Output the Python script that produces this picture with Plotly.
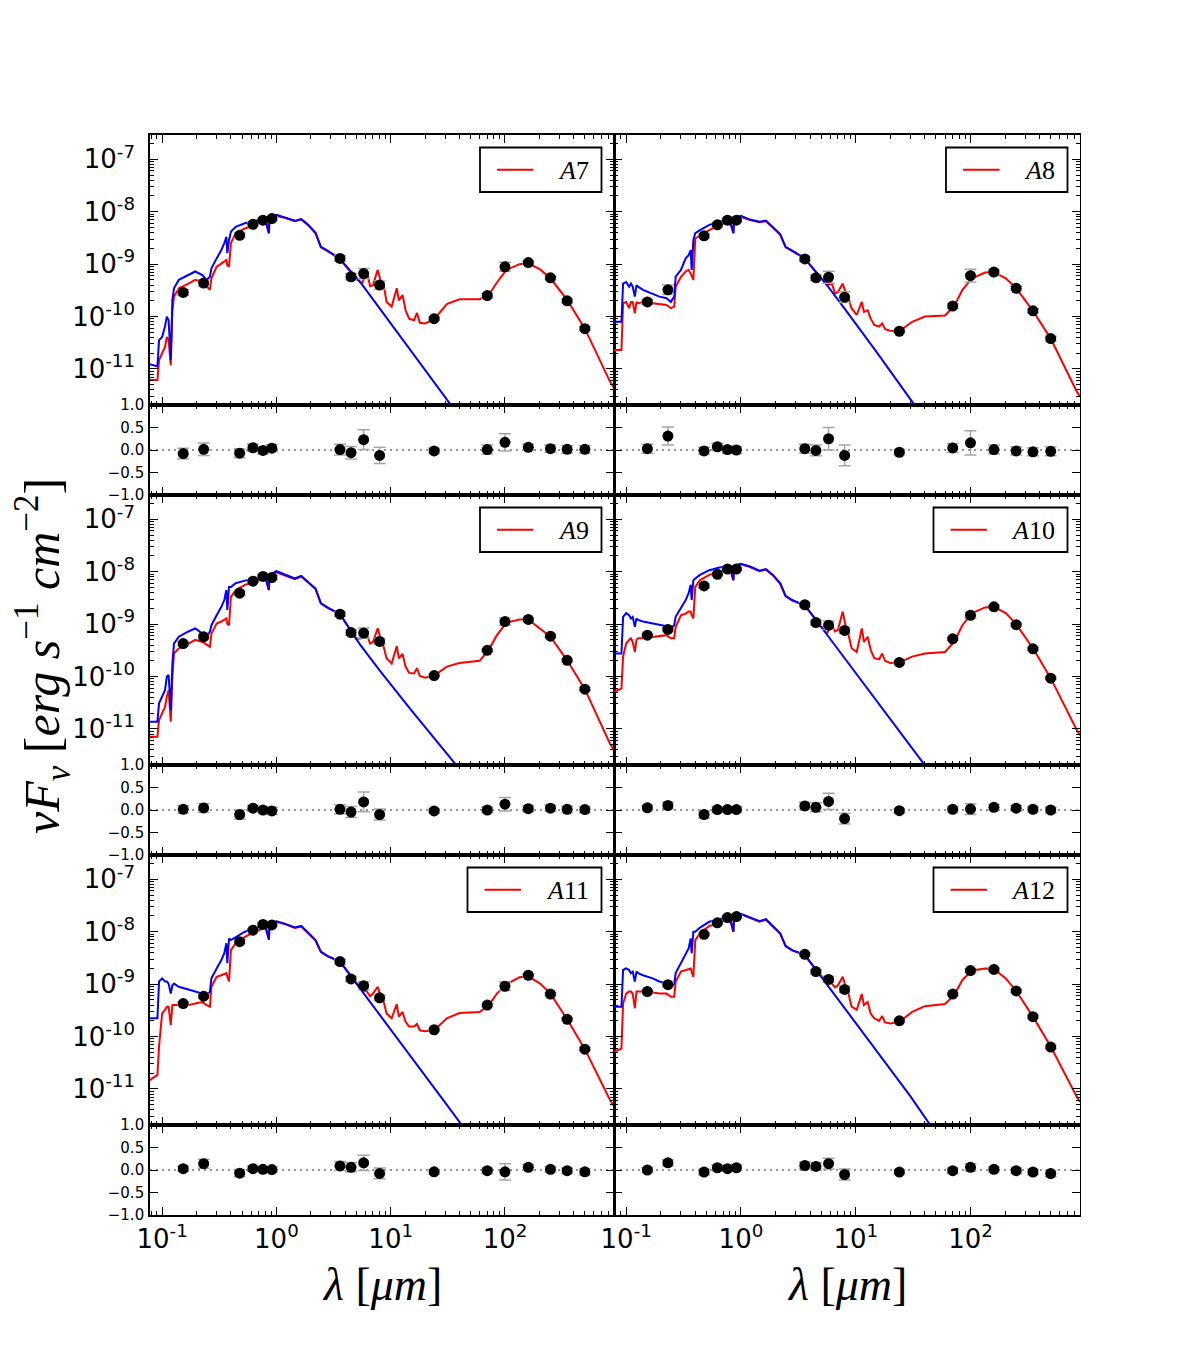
import plotly.graph_objects as go

# ---------------- data (log10 of nu F_nu in erg s^-1 cm^-2) ----------------
panel_names = ["A7", "A8", "A9", "A10", "A11", "A12"]

phot_wl = [0.153, 0.231, 0.477, 0.623, 0.763, 0.913, 3.6, 4.5, 5.8, 8.0,
           24, 70, 100, 160, 250, 350, 500]

phot_A7 = [-9.54, -9.36, -8.45, -8.24, -8.16, -8.13, -8.89, -9.24, -9.18, -9.40, -10.04, -9.60, -9.05, -8.97, -9.26, -9.70, -10.23]
phot_A8 = [-9.72, -9.49, -8.46, -8.25, -8.16, -8.16, -8.90, -9.26, -9.25, -9.63, -10.28, -9.80, -9.22, -9.15, -9.46, -9.89, -10.42]
phot_A9 = [-9.37, -9.24, -8.41, -8.18, -8.09, -8.11, -8.81, -9.16, -9.17, -9.33, -9.98, -9.50, -8.95, -8.91, -9.23, -9.69, -10.24]
phot_A10 = [-9.21, -9.10, -8.27, -8.05, -7.95, -7.95, -8.63, -8.97, -9.02, -9.12, -9.73, -9.28, -8.83, -8.67, -9.01, -9.47, -10.03]
phot_A11 = [-9.37, -9.23, -8.19, -7.97, -7.86, -7.87, -8.57, -8.90, -9.03, -9.26, -9.87, -9.40, -9.04, -8.83, -9.19, -9.67, -10.24]
phot_A12 = [-9.14, -9.01, -8.05, -7.83, -7.73, -7.71, -8.43, -8.76, -8.91, -9.10, -9.70, -9.19, -8.74, -8.72, -9.13, -9.62, -10.20]

resid_A7 = [-0.08, 0.015, -0.07, 0.05, -0.01, 0.04, 0.01, -0.06, 0.23, -0.12, -0.02, 0.01, 0.17, 0.06, 0.03, 0.015, 0.015]
resid_A8 = [0.03, 0.31, -0.02, 0.07, 0.01, 0.0, 0.03, -0.01, 0.25, -0.12, -0.05, 0.045, 0.16, 0.01, -0.02, -0.04, -0.03]
resid_A9 = [0.015, 0.045, -0.10, 0.04, 0.0, -0.02, 0.015, -0.045, 0.18, -0.10, -0.02, 0.0, 0.13, 0.03, 0.04, 0.015, 0.01]
resid_A10 = [0.05, 0.10, -0.10, 0.01, 0.01, 0.01, 0.09, 0.06, 0.19, -0.19, -0.015, 0.015, 0.02, 0.06, 0.04, 0.015, 0.0]
resid_A11 = [0.03, 0.14, -0.07, 0.03, 0.015, 0.01, 0.09, 0.06, 0.16, -0.075, -0.04, -0.015, -0.04, 0.06, 0.015, -0.015, -0.04]
resid_A12 = [0.0, 0.16, -0.045, 0.05, 0.03, 0.05, 0.10, 0.08, 0.14, -0.10, -0.045, -0.015, 0.06, 0.015, -0.015, -0.045, -0.08]

rerr_A7 = [0.12, 0.14, 0.10, 0.08, 0.08, 0.08, 0.12, 0.14, 0.22, 0.18, 0.06, 0.10, 0.19, 0.07, 0.08, 0.08, 0.08]
rerr_A8 = [0.10, 0.20, 0.08, 0.08, 0.08, 0.08, 0.10, 0.12, 0.25, 0.23, 0.06, 0.10, 0.27, 0.10, 0.09, 0.09, 0.10]
rerr_A9 = [0.08, 0.10, 0.10, 0.06, 0.06, 0.08, 0.10, 0.12, 0.22, 0.12, 0.05, 0.06, 0.15, 0.07, 0.07, 0.07, 0.07]
rerr_A10 = [0.05, 0.07, 0.08, 0.06, 0.06, 0.06, 0.08, 0.10, 0.18, 0.12, 0.05, 0.06, 0.12, 0.06, 0.06, 0.06, 0.06]
rerr_A11 = [0.06, 0.10, 0.08, 0.06, 0.06, 0.06, 0.10, 0.10, 0.17, 0.12, 0.05, 0.06, 0.18, 0.06, 0.06, 0.06, 0.07]
rerr_A12 = [0.05, 0.07, 0.06, 0.06, 0.06, 0.06, 0.08, 0.08, 0.12, 0.12, 0.05, 0.06, 0.08, 0.06, 0.06, 0.06, 0.07]

# stellar part of the models (UV-optical-NIR)
star_wl = [0.078, 0.091, 0.094, 0.100, 0.106, 0.110, 0.114, 0.119, 0.123, 0.127,
           0.140, 0.170, 0.195, 0.225, 0.245, 0.262, 0.270, 0.300, 0.330, 0.350,
           0.365, 0.372, 0.385, 0.400, 0.440, 0.530, 0.650, 0.800, 0.860, 0.870,
           1.000, 1.200, 1.450, 1.650, 1.900, 2.200, 2.450, 2.800, 3.600]

star_blue_A7 = [-10.91, -10.95, -10.45, -10.39, -10.19, -10.00, -10.07, -10.83, -9.68, -9.46,
                -9.30, -9.21, -9.14, -9.21, -9.30, -9.24, -9.08, -8.89, -8.73, -8.60,
                -8.48, -8.79, -8.54, -8.38, -8.29, -8.22, -8.17, -8.13, -8.41, -8.11,
                -8.06, -8.11, -8.17, -8.14, -8.25, -8.40, -8.67, -8.74, -8.90]
star_red_A7 = [-11.21, -11.21, -10.83, -10.70, -10.58, -10.39, -10.45, -10.93, -9.88, -9.62,
               -9.46, -9.37, -9.30, -9.34, -9.43, -9.49, -9.27, -9.05, -8.99, -8.95,
               -8.92, -9.02, -9.05, -8.60, -8.41, -8.32, -8.25, -8.17, -8.41, -8.14,
               -8.08, -8.12, -8.18, -8.15, -8.26, -8.41, -8.68, -8.75, -8.90]

star_blue_A8 = [-10.10, -10.10, -9.37, -9.34, -9.43, -9.37, -9.43, -9.62, -9.40, -9.43,
                -9.49, -9.56, -9.62, -9.65, -9.72, -9.62, -9.24, -9.11, -8.89, -8.83,
                -8.73, -9.11, -8.54, -8.41, -8.35, -8.25, -8.19, -8.15, -8.41, -8.13,
                -8.08, -8.15, -8.19, -8.17, -8.29, -8.43, -8.67, -8.74, -8.89]
star_red_A8 = [-10.64, -10.64, -9.75, -9.72, -9.84, -9.72, -9.72, -9.94, -9.72, -9.75,
               -9.72, -9.74, -9.76, -9.78, -9.84, -9.81, -9.43, -9.24, -9.14, -9.11,
               -9.18, -9.24, -9.30, -8.51, -8.45, -8.35, -8.25, -8.19, -8.41, -8.16,
               -8.10, -8.16, -8.20, -8.18, -8.30, -8.44, -8.68, -8.75, -8.89]

star_blue_A9 = [-10.86, -10.86, -10.51, -10.38, -10.26, -10.00, -9.97, -10.64, -9.75, -9.37,
                -9.24, -9.14, -9.08, -9.18, -9.24, -9.14, -9.02, -8.83, -8.67, -8.54,
                -8.35, -8.73, -8.29, -8.29, -8.22, -8.17, -8.13, -8.08, -8.35, -8.06,
                -7.99, -8.06, -8.13, -8.08, -8.19, -8.32, -8.60, -8.68, -8.81]
star_red_A9 = [-11.15, -11.15, -10.83, -10.70, -10.58, -10.38, -10.26, -10.86, -10.00, -9.56,
               -9.46, -9.37, -9.30, -9.34, -9.40, -9.43, -9.18, -8.99, -8.95, -8.92,
               -8.89, -8.99, -9.02, -8.48, -8.35, -8.25, -8.19, -8.13, -8.35, -8.09,
               -8.01, -8.07, -8.14, -8.09, -8.20, -8.33, -8.61, -8.69, -8.81]

star_blue_A10 = [-9.56, -9.56, -8.86, -8.79, -8.83, -8.89, -8.86, -9.05, -8.89, -8.92,
                 -8.95, -8.99, -9.02, -9.04, -9.08, -9.02, -8.86, -8.70, -8.54, -8.41,
                 -8.25, -8.54, -8.16, -8.13, -8.06, -7.97, -7.92, -7.89, -8.16, -7.88,
                 -7.85, -7.90, -7.98, -7.95, -8.06, -8.22, -8.46, -8.54, -8.64]
star_red_A10 = [-10.29, -10.23, -9.62, -9.37, -9.30, -9.27, -9.34, -9.53, -9.30, -9.27,
                -9.27, -9.24, -9.22, -9.21, -9.27, -9.27, -9.05, -8.83, -8.80, -8.76,
                -8.76, -8.83, -8.89, -8.29, -8.16, -8.06, -8.00, -7.94, -8.16, -7.90,
                -7.86, -7.91, -7.99, -7.96, -8.07, -8.23, -8.47, -8.55, -8.64]

star_blue_A11 = [-9.65, -9.65, -8.95, -8.89, -8.95, -8.95, -8.99, -9.18, -9.02, -8.99,
                 -9.05, -9.11, -9.14, -9.18, -9.24, -9.14, -8.89, -8.70, -8.54, -8.41,
                 -8.22, -8.60, -8.13, -8.16, -8.11, -8.00, -7.94, -7.87, -8.15, -7.85,
                 -7.80, -7.85, -7.92, -7.89, -8.02, -8.16, -8.38, -8.46, -8.57]
star_red_A11 = [-10.83, -10.73, -10.19, -9.56, -9.49, -9.43, -9.43, -9.78, -9.40, -9.40,
                -9.40, -9.40, -9.37, -9.34, -9.40, -9.43, -9.05, -8.86, -8.83, -8.81,
                -8.79, -8.86, -8.95, -8.35, -8.22, -8.10, -8.00, -7.92, -8.15, -7.87,
                -7.81, -7.86, -7.93, -7.90, -8.03, -8.17, -8.39, -8.47, -8.57]

star_blue_A12 = [-9.43, -9.43, -8.73, -8.70, -8.73, -8.79, -8.76, -8.95, -8.76, -8.79,
                 -8.83, -8.89, -8.95, -8.99, -9.06, -8.99, -8.79, -8.60, -8.44, -8.32,
                 -8.13, -8.41, -8.00, -8.00, -7.92, -7.81, -7.76, -7.71, -8.00, -7.70,
                 -7.66, -7.73, -7.80, -7.76, -7.89, -8.03, -8.27, -8.35, -8.44]
star_red_A12 = [-10.29, -10.23, -9.37, -9.18, -9.14, -9.14, -9.18, -9.46, -9.14, -9.14,
                -9.14, -9.16, -9.18, -9.18, -9.24, -9.24, -8.95, -8.76, -8.73, -8.71,
                -8.70, -8.76, -8.86, -8.16, -8.03, -7.89, -7.83, -7.76, -8.00, -7.72,
                -7.67, -7.74, -7.81, -7.77, -7.90, -8.04, -8.28, -8.36, -8.44]

# stellar Rayleigh-Jeans tail (blue curves)
tail_wl = [5.4, 8.0, 15.0, 30.0, 45.0]
tail_A7 = [-9.34, -9.84, -10.64, -11.54, -12.06]
tail_A8 = [-9.35, -9.85, -10.66, -11.58, -12.11]
tail_A9 = [-9.39, -9.88, -10.63, -11.43, -11.90]
tail_A10 = [-9.15, -9.65, -10.44, -11.32, -11.84]
tail_A11 = [-9.08, -9.59, -10.38, -11.26, -11.78]
tail_A12 = [-8.96, -9.46, -10.26, -11.14, -11.70]

# dust part of the total models (red curves)
ir_wl = [4.0, 5.0, 5.6, 6.2, 6.6, 7.0, 7.7, 8.3, 8.6, 9.2, 10.2, 11.3, 11.8, 12.7,
         13.5, 14.5, 16.0, 17.0, 18.0, 20.0, 24.0, 31.0, 40.0, 60.0, 72.0, 85.0,
         103.0, 134.0, 160.0, 203.0, 250.0, 350.0, 500.0, 830.0, 900.0]
ir_A7 = [-9.03, -9.27, -9.37, -9.14, -9.42, -9.40, -9.11, -9.37, -9.34, -9.72, -9.81, -9.46, -9.69, -9.59,
         -9.88, -10.04, -10.07, -9.93, -10.12, -10.13, -10.05, -9.76, -9.67, -9.67, -9.59, -9.35,
         -9.11, -9.00, -8.985, -9.10, -9.27, -9.68, -10.23, -11.24, -11.36]
ir_A8 = [-9.02, -9.26, -9.40, -9.37, -9.56, -9.53, -9.37, -9.59, -9.62, -9.84, -9.97, -9.72, -9.91, -9.88,
         -10.04, -10.16, -10.19, -10.13, -10.24, -10.27, -10.28, -10.10, -10.00, -9.98, -9.80, -9.49,
         -9.27, -9.16, -9.15, -9.27, -9.46, -9.89, -10.42, -11.40, -11.53]
ir_A9 = [-8.96, -9.28, -9.27, -9.20, -9.37, -9.34, -9.08, -9.34, -9.40, -9.65, -9.75, -9.42, -9.65, -9.57,
         -9.81, -9.93, -9.94, -9.84, -9.99, -10.02, -9.98, -9.81, -9.74, -9.70, -9.49, -9.21,
         -8.97, -8.91, -8.91, -9.08, -9.24, -9.69, -10.24, -11.28, -11.40]
ir_A10 = [-8.77, -9.05, -9.18, -9.02, -9.14, -9.11, -8.76, -9.11, -9.18, -9.46, -9.53, -9.08, -9.34, -9.24,
          -9.49, -9.65, -9.67, -9.56, -9.70, -9.74, -9.73, -9.62, -9.56, -9.53, -9.34, -9.02,
          -8.79, -8.68, -8.67, -8.79, -9.00, -9.46, -10.03, -10.99, -11.12]
ir_A11 = [-8.70, -8.98, -9.11, -9.14, -9.23, -9.18, -9.05, -9.27, -9.30, -9.56, -9.65, -9.38, -9.62, -9.53,
          -9.72, -9.81, -9.81, -9.76, -9.88, -9.90, -9.88, -9.65, -9.55, -9.53, -9.40, -9.18,
          -9.00, -8.87, -8.85, -8.99, -9.18, -9.67, -10.24, -11.21, -11.33]
ir_A12 = [-8.58, -8.84, -8.95, -8.99, -9.06, -9.02, -8.86, -9.10, -9.16, -9.43, -9.49, -9.19, -9.40, -9.34,
          -9.56, -9.65, -9.70, -9.61, -9.73, -9.75, -9.72, -9.53, -9.42, -9.38, -9.21, -8.92,
          -8.74, -8.70, -8.71, -8.89, -9.13, -9.62, -10.19, -11.12, -11.25]

x_tickvals = [0.1, 1, 10, 100]
x_ticktext = ["10<sup>-1</sup>", "10<sup>0</sup>", "10<sup>1</sup>", "10<sup>2</sup>"]
y_tickvals = [1e-11, 1e-10, 1e-9, 1e-8, 1e-7]
y_ticktext = ["10<sup>-11</sup>", "10<sup>-10</sup>", "10<sup>-9</sup>", "10<sup>-8</sup>", "10<sup>-7</sup>"]
r_tickvals = [1.0, 0.5, 0.0, -0.5, -1.0]
r_ticktext = ["1.0", "0.5", "0.0", "\u22120.5", "\u22121.0"]

panels = {
    "A7": (phot_A7, resid_A7, rerr_A7, star_blue_A7, star_red_A7, tail_A7, ir_A7),
    "A8": (phot_A8, resid_A8, rerr_A8, star_blue_A8, star_red_A8, tail_A8, ir_A8),
    "A9": (phot_A9, resid_A9, rerr_A9, star_blue_A9, star_red_A9, tail_A9, ir_A9),
    "A10": (phot_A10, resid_A10, rerr_A10, star_blue_A10, star_red_A10, tail_A10, ir_A10),
    "A11": (phot_A11, resid_A11, rerr_A11, star_blue_A11, star_red_A11, tail_A11, ir_A11),
    "A12": (phot_A12, resid_A12, rerr_A12, star_blue_A12, star_red_A12, tail_A12, ir_A12),
}

# ---------------- layout geometry (pixels) ----------------
W, H = 1200, 1350
ML, MR, MT, MB = 150, 120, 135, 135
PW, PH = W - ML - MR, H - MT - MB


def pxx(X):
    return (X - ML) / PW


def pxy(Y):
    return 1 - (Y - MT) / PH


COLS = [(150, 614), (614, 1080)]
XR = [-1.106, 2.954]
YR = [-11.687, -6.536]

x_minor = [0.08, 0.09] + [k * 10.0 ** d for d in (-1, 0, 1, 2) for k in range(2, 10)]
y_minor = [k * 10.0 ** d for d in range(-12, -6) for k in range(2, 10)]

FONT_TICK = "DejaVu Sans"
FONT_MATH = "Liberation Serif"

fig = go.Figure()
layout = {}
shapes = []
annotations = []


def lin(vals):
    return [10.0 ** v for v in vals]


for p, name in enumerate(panel_names):
    phot, resid, rerr, sblue, sred, tail, ir = panels[name]
    r, c = divmod(p, 2)
    x0, x1 = COLS[c]
    top = 135 + 360 * r
    mid = top + 270
    bot = top + 360
    i_sed, i_res = 2 * p + 1, 2 * p + 2
    xs = "x" if i_sed == 1 else f"x{i_sed}"
    ys = "y" if i_sed == 1 else f"y{i_sed}"
    xr_, yr_ = f"x{i_res}", f"y{i_res}"

    # model curves
    fig.add_trace(go.Scatter(x=star_wl + ir_wl, y=lin(sred + ir), mode="lines",
                             line=dict(color="#ff0000", width=2), xaxis=xs, yaxis=ys,
                             hoverinfo="skip"))
    fig.add_trace(go.Scatter(x=star_wl + tail_wl, y=lin(sblue + tail), mode="lines",
                             line=dict(color="#0000ff", width=2), xaxis=xs, yaxis=ys,
                             hoverinfo="skip"))
    # photometry
    F = lin(phot)
    up = [f * (10 ** (0.45 * e) - 1) for f, e in zip(F, rerr)]
    dn = [f * (1 - 10 ** (-0.45 * e)) for f, e in zip(F, rerr)]
    fig.add_trace(go.Scatter(x=phot_wl, y=F, mode="markers",
                             marker=dict(color="black", size=11),
                             error_y=dict(type="data", array=up, arrayminus=dn, symmetric=False,
                                          color="#a6a6a6", thickness=1.5, width=6),
                             xaxis=xs, yaxis=ys))
    # residuals
    fig.add_trace(go.Scatter(x=phot_wl, y=resid, mode="markers",
                             marker=dict(color="black", size=11),
                             error_y=dict(type="data", array=rerr, color="#a6a6a6",
                                          thickness=1.5, width=6),
                             xaxis=xr_, yaxis=yr_))

    xdom = [pxx(x0), pxx(x1)]
    common_x = dict(type="log", range=XR, domain=xdom, tickvals=x_tickvals, ticktext=x_ticktext,
                    ticks="inside", ticklen=8, tickwidth=1, tickcolor="black", mirror="ticks",
                    showline=True, linewidth=1.6, linecolor="black", showgrid=False, zeroline=False,
                    minor=dict(tickvals=x_minor, ticks="inside", ticklen=4, tickwidth=1,
                               tickcolor="black", showgrid=False),
                    tickfont=dict(family=FONT_TICK, size=26, color="black"))
    layout["xaxis" if i_sed == 1 else f"xaxis{i_sed}"] = dict(common_x, anchor=ys, showticklabels=False)
    layout[f"xaxis{i_res}"] = dict(common_x, anchor=yr_, showticklabels=(r == 2))

    # right-column y axes: their left spine coincides with the left column's right spine
    show_yline = (c == 0)
    layout["yaxis" if i_sed == 1 else f"yaxis{i_sed}"] = dict(
        type="log", range=YR, domain=[pxy(mid), pxy(top)], anchor=xs,
        tickvals=y_tickvals, ticktext=y_ticktext, showticklabels=(c == 0),
        ticks="inside", ticklen=8, tickwidth=1, tickcolor="black", mirror="ticks",
        showline=True, linewidth=1.6 if show_yline else 0.8, linecolor="black",
        showgrid=False, zeroline=False,
        minor=dict(tickvals=y_minor, ticks="inside", ticklen=4, tickwidth=1,
                   tickcolor="black", showgrid=False),
        ticklabelstandoff=8,
        tickfont=dict(family=FONT_TICK, size=26, color="black"))
    layout[f"yaxis{i_res}"] = dict(
        range=[-1, 1], domain=[pxy(bot), pxy(mid)], anchor=xr_,
        tickvals=r_tickvals, ticktext=r_ticktext, showticklabels=(c == 0),
        ticks="inside", ticklen=8, tickwidth=1, tickcolor="black", mirror="ticks",
        showline=True, linewidth=1.6 if show_yline else 0.8, linecolor="black",
        showgrid=False, zeroline=False,
        ticklabelstandoff=1,
        tickfont=dict(family=FONT_TICK, size=15, color="black"))

    # dotted zero line in residual panel
    shapes.append(dict(type="line", xref=f"{xr_} domain", yref=yr_, x0=0, x1=1, y0=0, y1=0,
                       line=dict(color="#707070", width=1.5, dash="2px,4px"), layer="below"))

    # legend box
    bw = 121.5 if len(name) == 2 else 134
    bx1 = x1 - 12.5
    bx0 = bx1 - bw
    by0 = top + 12.5
    by1 = by0 + 44.5
    cy = (by0 + by1) / 2
    shapes.append(dict(type="rect", xref="paper", yref="paper", x0=pxx(bx0), x1=pxx(bx1),
                       y0=pxy(by1), y1=pxy(by0), line=dict(color="black", width=1.8),
                       fillcolor="white", layer="above"))
    shapes.append(dict(type="line", xref="paper", yref="paper", x0=pxx(bx0 + 17),
                       x1=pxx(bx0 + 53.5), y0=pxy(cy), y1=pxy(cy),
                       line=dict(color="#ff0000", width=2), layer="above"))
    annotations.append(dict(xref="paper", yref="paper", x=pxx(bx1 - 11), y=pxy(cy + 1),
                            xanchor="right", yanchor="middle", showarrow=False,
                            text=f"<i>A</i>{name[1:]}",
                            font=dict(family=FONT_MATH, size=26, color="black")))

# axis titles
for cx in (382, 847):
    annotations.append(dict(xref="paper", yref="paper", x=pxx(cx), y=pxy(1284),
                            xanchor="center", yanchor="middle", showarrow=False,
                            text="<i>λ</i> [<i>μm</i>]",
                            font=dict(family=FONT_MATH, size=46, color="black")))
annotations.append(dict(xref="paper", yref="paper", x=pxx(42), y=pxy(656),
                        xanchor="center", yanchor="middle", showarrow=False, textangle=-90,
                        text="<i>νF</i><sub><i>ν</i></sub> [<i>erg</i> <i>s</i><sup>−1</sup> <i>cm</i><sup>−2</sup>]",
                        font=dict(family=FONT_MATH, size=50, color="black")))

fig.update_layout(width=W, height=H, margin=dict(l=ML, r=MR, t=MT, b=MB),
                  paper_bgcolor="white", plot_bgcolor="white", showlegend=False,
                  shapes=shapes, annotations=annotations, **layout)

fig.write_html("out.html")
